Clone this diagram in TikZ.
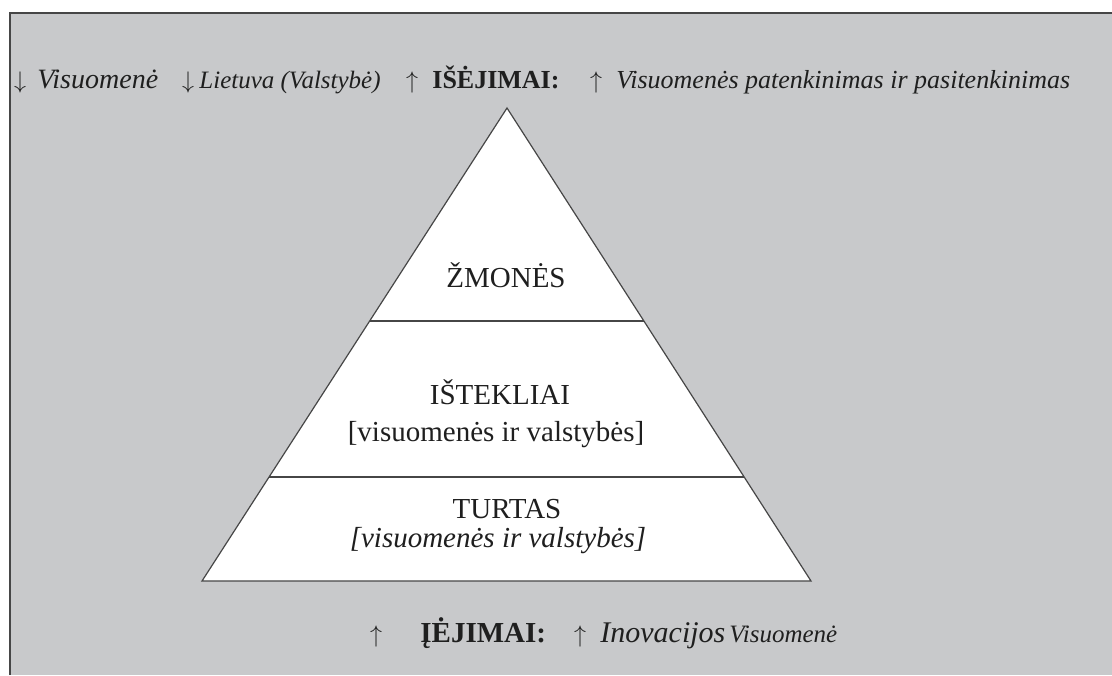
\documentclass[tikz,border=0pt]{standalone}
\usepackage{fontspec}
\setmainfont{Liberation Serif}
\usepackage{xcolor}
\usepackage{tikz}
\usetikzlibrary{calc, positioning}
\definecolor{panelgray}{RGB}{200,201,203}
\definecolor{edgegray}{RGB}{70,70,70}
\newcommand{\fs}[1]{\fontsize{#1}{#1}\selectfont}
\tikzset{
	lbl/.style={anchor=base west, inner sep=0pt},
	arr/.style={anchor=base, inner sep=0pt, font=\fs{13}},
	tier/.style={anchor=base, inner sep=0pt, font=\fs{14.5}},
	pline/.style={edgegray, line width=0.6pt}
}

\begin{document}
\begin{tikzpicture}[x=0.5pt, y=-0.5pt, every node/.style={text=black!88}]
	\useasboundingbox (0,0) rectangle (1112,675);
	% panel
	\fill[panelgray] (10,13) rectangle (1112,675);
	\draw[edgegray, line width=0.7pt] (10,675) -- (10,13) -- (1112,13);
	
	% pyramid
	\coordinate (apex) at (507,108);
	\coordinate (bl) at (202,581);
	\coordinate (br) at (811,581);
	\draw[pline, fill=white] (apex) -- (br) -- (bl) -- cycle;
	\draw[pline] ($(apex)!0.4503!(bl)$) -- ($(apex)!0.4503!(br)$);
	\draw[pline] ($(apex)!0.7801!(bl)$) -- ($(apex)!0.7801!(br)$);
	
	\node[tier] (zmones) at (506,287) {ŽMONĖS};
	\node[tier] (istekliai) at (500,404) {IŠTEKLIAI};
	\node[tier] (istsub) at (496,441) {[visuomenės ir valstybės]};
	\node[tier] (turtas) at (507,518) {TURTAS};
	\node[tier] (turtsub) at (498,547) {\itshape [visuomenės ir valstybės]};
	
	% outputs
	\node[arr] (dn1) at (20,88) {$\downarrow$};
	\node[lbl] (soc1) at (37,88) {\fs{14}\itshape Visuomenė};
	\node[arr] (dn2) at (188,88) {$\downarrow$};
	\node[lbl] (state) at (199,88) {\fs{12.5}\itshape Lietuva (Valstybė)};
	\node[arr] (up1) at (412,88) {$\uparrow$};
	\node[lbl] (outs) at (432,88) {\fs{13}\bfseries IŠĖJIMAI:};
	\node[arr] (up2) at (596,88) {$\uparrow$};
	\node[lbl] (satis) at (616,88) {\fs{13}\itshape Visuomenės patenkinimas ir pasitenkinimas};
	
	% inputs
	\node[arr] (up3) at (376,642) {$\uparrow$};
	\node[lbl] (ins) at (420,642) {\fs{14.5}\bfseries ĮĖJIMAI:};
	\node[arr] (up4) at (580,642) {$\uparrow$};
	\node[lbl] (innov) at (600,642) {\fs{15}\itshape Inovacijos};
	\node[lbl] (soc2) at (729,642) {\fs{12.5}\itshape Visuomenė};
\end{tikzpicture}
\end{document}
